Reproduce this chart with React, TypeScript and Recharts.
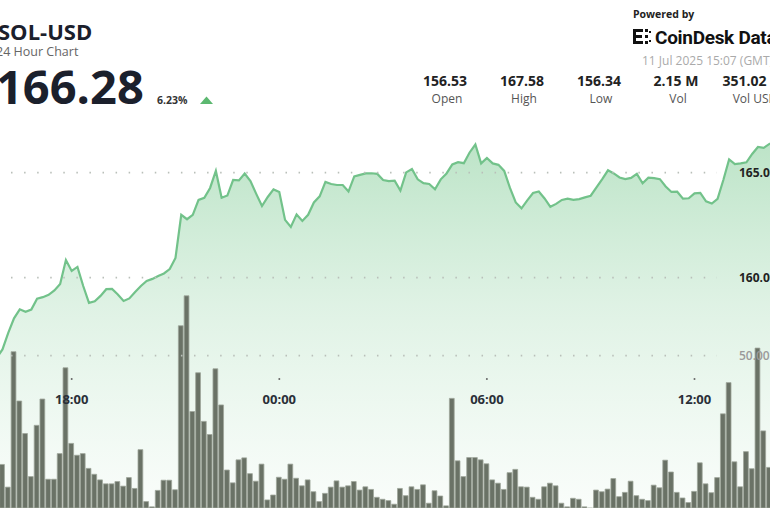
import React from 'react';
import { ComposedChart, Area, Bar, XAxis, YAxis, ReferenceLine } from 'recharts';

// 10-minute points, first one at 15:40 of the previous day (minutes since that day's 00:00)
const START_MINUTE = 940;
const STEP_MINUTES = 10;

const prices: number[] = [
  155.80, 156.18, 156.58, 157.37, 158.06, 158.49, 158.37, 158.48, 159.00, 159.07,
  159.18, 159.39, 159.70, 160.84, 160.32, 160.51, 159.60, 158.80, 158.87, 159.13,
  159.45, 159.46, 159.20, 158.89, 159.01, 159.32, 159.60, 159.84, 159.94, 160.08,
  160.20, 160.41, 160.94, 162.99, 162.78, 162.99, 163.70, 163.80, 164.27, 165.08,
  163.80, 163.91, 164.65, 164.63, 164.96, 164.60, 163.99, 163.41, 163.84, 164.20,
  164.08, 162.75, 162.41, 163.01, 162.70, 162.99, 163.58, 163.87, 164.56, 164.46,
  164.41, 164.41, 164.10, 164.82, 164.89, 164.96, 164.97, 164.94, 164.65, 164.60,
  164.62, 164.15, 165.01, 165.17, 164.68, 164.50, 164.46, 164.21, 164.68, 164.96,
  165.39, 165.50, 165.45, 165.96, 166.34, 165.44, 165.70, 165.44, 165.37, 165.08,
  164.27, 163.58, 163.30, 163.68, 164.03, 164.10, 163.77, 163.37, 163.51, 163.70,
  163.76, 163.70, 163.74, 163.82, 163.90, 164.30, 164.69, 165.11, 164.96, 164.77,
  164.69, 164.75, 164.94, 164.49, 164.76, 164.74, 164.69, 164.34, 164.08, 164.09,
  163.76, 163.78, 164.01, 164.03, 163.63, 163.53, 163.75, 164.65, 165.63, 165.41,
  165.44, 165.49, 165.89, 166.22, 166.18, 166.37, 166.30,
];

// volume per 10 minutes, in thousands
const volumes: number[] = [
  9.0, 10.0, 16.9, 10.0, 51.2, 36.2, 26.3, 13.2, 28.8, 36.8,
  12.4, 12.4, 20.2, 46.3, 23.3, 19.7, 20.2, 15.7, 13.9, 12.2,
  11.0, 11.0, 11.7, 10.3, 12.9, 9.6, 21.4, 5.6, 4.0, 9.0,
  12.1, 12.1, 9.2, 59.1, 68.2, 33.0, 44.8, 30.0, 26.0, 46.0,
  35.0, 15.2, 11.3, 18.3, 18.9, 14.1, 11.8, 17.0, 6.1, 7.6,
  13.0, 12.4, 17.0, 12.7, 10.4, 12.2, 8.6, 5.6, 8.1, 10.0,
  11.9, 10.0, 10.4, 11.7, 9.1, 10.1, 9.3, 6.9, 6.3, 5.9,
  4.8, 9.6, 7.4, 10.1, 9.3, 10.7, 5.1, 8.9, 7.3, 4.3,
  37.0, 18.0, 13.2, 19.0, 19.0, 18.3, 17.1, 12.2, 11.2, 9.3,
  14.4, 15.4, 10.1, 10.0, 6.9, 6.3, 10.1, 11.2, 10.4, 5.1,
  4.0, 6.6, 6.3, 4.0, 3.5, 9.1, 8.6, 9.4, 12.6, 7.1,
  8.4, 11.8, 7.4, 6.3, 5.9, 10.6, 9.8, 18.2, 14.6, 8.4,
  6.7, 5.3, 8.7, 17.4, 11.0, 8.3, 12.9, 32.3, 41.8, 17.7,
  10.1, 20.8, 15.6, 52.3, 27.1, 16.0, 14.0,
];

const tickMinutes = [1080, 1440, 1800, 2160];
const tickLabels = ['18:00', '00:00', '06:00', '12:00'];

const priceGridValues = [165, 160];
const priceGridLabels = ['165.00', '160.00'];
const volumeGridValue = 50;
const volumeGridLabel = '50.00';

const statValues = ['156.53', '167.58', '156.34', '2.15 M', '351.02 M'];
const statLabels = ['Open', 'High', 'Low', 'Vol', 'Vol USD'];

const data = prices.map((p, i) => ({
  t: START_MINUTE + i * STEP_MINUTES,
  price: p,
  volume: volumes[i],
}));

const FONT = '"Open Sans", "Noto Sans", sans-serif';
const X_DOMAIN: [number, number] = [955.7, 2290.9];
const GRID_SEGMENT_X: [number, number] = [974.8, 2199.0];

const TimeTick = (props: any) => {
  const { x, payload } = props;
  const idx = tickMinutes.indexOf(payload.value);
  return (
    <g>
      <circle cx={x} cy={379} r={1} fill="#666" />
      <text x={x} y={403.5} textAnchor="middle" fontFamily={FONT} fontWeight={700} fontSize={13} fill="#2a2f38">
        {idx >= 0 ? tickLabels[idx] : ''}
      </text>
    </g>
  );
};

const Header = () => (
  <svg width={770} height={140} style={{ position: 'absolute', left: 0, top: 0, pointerEvents: 'none' }}>
    <text x={-2} y={40} fontFamily={FONT} fontWeight={700} fontSize={22} fill="#1b202c">SOL-USD</text>
    <text x={-4} y={55.5} fontFamily={FONT} fontSize={12.5} fill="#666">24 Hour Chart</text>
    <text x={-4} y={103.5} fontFamily={FONT} fontWeight={700} fontSize={47} fill="#1b202c">166.28</text>
    <text x={157} y={104} fontFamily={FONT} fontWeight={700} fontSize={10.5} fill="#333">6.23%</text>
    <polygon points="200,104 213,104 206.5,96.5" fill="#5cb870" />

    <text x={633} y={17.5} fontFamily={FONT} fontWeight={700} fontSize={10.5} fill="#222">Powered by</text>
    <g fill="#111">
      <rect x={633} y={29} width={3} height={15} />
      <rect x={633} y={29} width={10} height={3} />
      <rect x={636} y={35} width={6} height={3} />
      <rect x={633} y={41} width={10} height={3} />
      <rect x={645} y={29} width={3} height={3} />
      <rect x={649} y={31} width={2} height={2} />
      <rect x={645} y={35} width={3} height={3} />
      <rect x={645} y={41} width={3} height={3} />
      <rect x={649} y={40} width={2} height={2} />
    </g>
    <text x={655} y={43.5} fontFamily="Roboto, Inter, sans-serif" fontWeight={700} fontSize={19} fill="#111" letterSpacing={-0.3}>CoinDesk Data</text>
    <text x={642} y={64.5} fontFamily={FONT} fontSize={12} fill="#aaa">11 Jul 2025 15:07 (GMT)</text>

    {statValues.map((v, i) => (
      <g key={v}>
        <text x={445 + i * 77} y={86} textAnchor="middle" fontFamily={FONT} fontWeight={700} fontSize={14} fill="#222">{v}</text>
        <text x={447 + i * 77} y={103} textAnchor="middle" fontFamily={FONT} fontSize={12} fill="#555">{statLabels[i]}</text>
      </g>
    ))}
  </svg>
);

export default function App() {
  return (
    <div style={{ position: 'fixed', left: 0, top: 0, width: 770, height: 508, overflow: 'hidden', background: '#fff' }}>
      <div style={{ position: 'absolute', left: 0, top: 0 }}>
        <ComposedChart width={770} height={520} data={data} margin={{ top: 0, right: 0, bottom: 0, left: 0 }}>
          <defs>
            <linearGradient id="priceFill" x1="0" y1="0" x2="0" y2="1">
              <stop offset="0%" stopColor="#62bf7c" stopOpacity={0.7} />
              <stop offset="45%" stopColor="#74c78c" stopOpacity={0.38} />
              <stop offset="100%" stopColor="#8fd3a2" stopOpacity={0.08} />
            </linearGradient>
          </defs>
          <XAxis
            dataKey="t"
            type="number"
            domain={X_DOMAIN}
            allowDataOverflow
            ticks={tickMinutes}
            interval={0}
            height={12}
            axisLine={false}
            tickLine={false}
            tick={<TimeTick />}
          />
          <YAxis yAxisId="price" domain={[149.03, 173.22]} allowDataOverflow hide />
          <YAxis yAxisId="vol" domain={[3.65, 158.2]} allowDataOverflow hide />
          <Area
            yAxisId="price"
            type="linear"
            dataKey="price"
            stroke="#72c28a"
            strokeWidth={2.2}
            fill="url(#priceFill)"
            isAnimationActive={false}
            dot={false}
            activeDot={false}
          />
          <Bar
            yAxisId="vol"
            dataKey="volume"
            barSize={4.8}
            fill="#6a7266"
            stroke="#9ea69a"
            strokeWidth={0.8}
            isAnimationActive={false}
          />
          {priceGridValues.map((v, i) => (
            <ReferenceLine
              key={v}
              yAxisId="price"
              segment={[{ x: GRID_SEGMENT_X[0], y: v }, { x: GRID_SEGMENT_X[1], y: v }]}
              stroke="#b9bfb9"
              strokeWidth={1.6}
              strokeDasharray="1.5 11.57"
              label={{ value: priceGridLabels[i], position: 'right', offset: 22, fill: '#222', fontSize: 12, fontWeight: 700, fontFamily: FONT }}
            />
          ))}
          <ReferenceLine
            yAxisId="vol"
            segment={[{ x: GRID_SEGMENT_X[0], y: volumeGridValue }, { x: GRID_SEGMENT_X[1], y: volumeGridValue }]}
            stroke="#b9bfb9"
            strokeWidth={1.6}
            strokeDasharray="1.5 11.57"
            label={{ value: volumeGridLabel, position: 'right', offset: 22, fill: '#9a9a9a', fontSize: 12, fontWeight: 600, fontFamily: FONT }}
          />
        </ComposedChart>
      </div>
      <Header />
    </div>
  );
}
